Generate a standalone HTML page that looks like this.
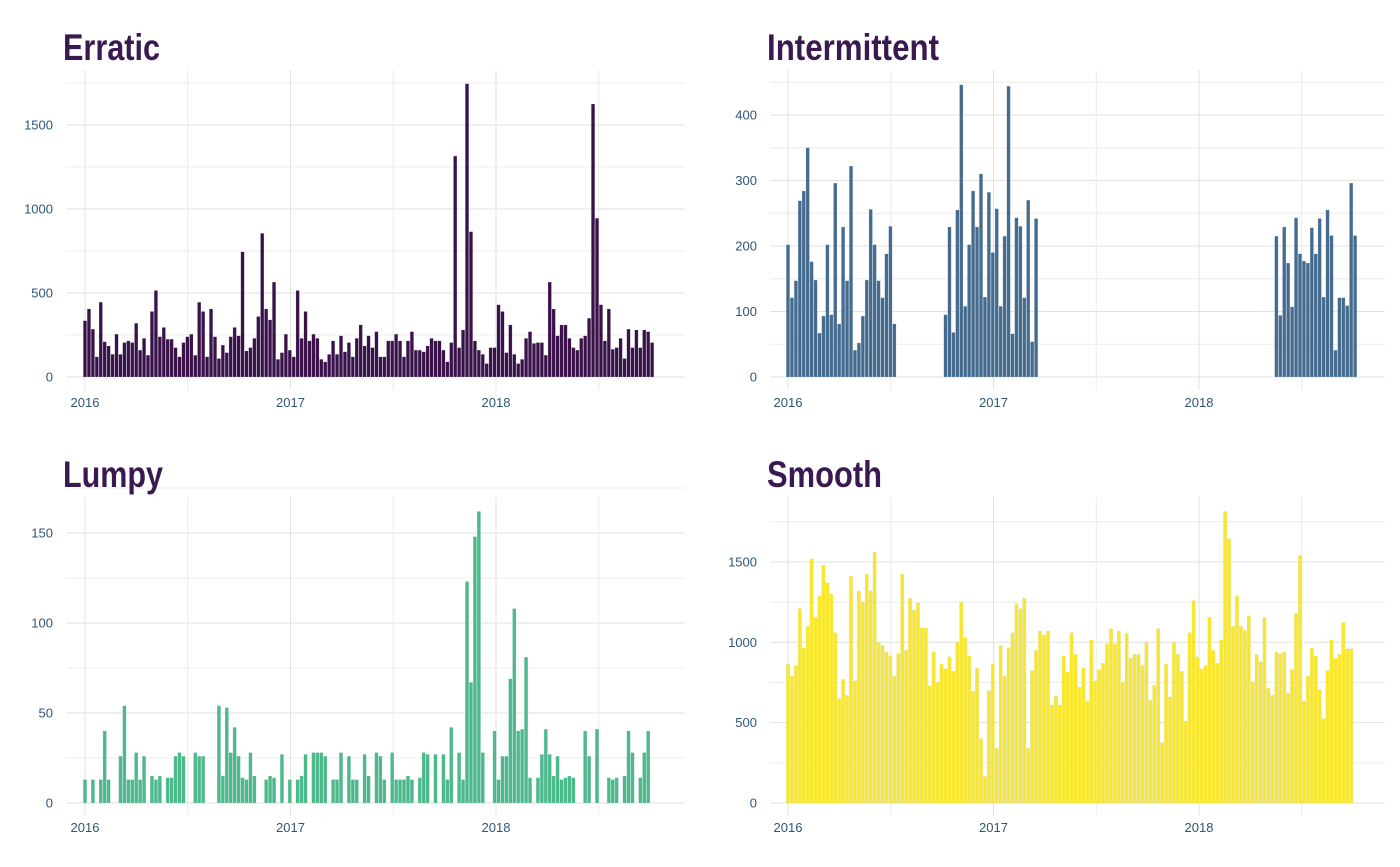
<!DOCTYPE html>
<html><head><meta charset="utf-8"><style>
body{margin:0;background:#fff;}
svg text{font-family:"Liberation Sans",sans-serif;}
.t{font-family:"Liberation Sans Narrow","Liberation Sans",sans-serif;font-weight:bold;font-size:37px;fill:#3a1850;}
.tk{font-size:13px;fill:#2f5577;}
</style></head><body>
<svg id="chart" width="1400" height="862" viewBox="0 0 1400 862" xmlns="http://www.w3.org/2000/svg"></svg>
<script>
const erraticValues=[335,405,285,120,445,210,185,135,255,135,205,215,205,320,160,230,130,390,515,240,295,225,225,175,120,205,240,255,130,445,390,120,405,240,110,190,145,240,295,245,745,155,175,230,360,855,405,340,565,105,145,255,160,120,515,230,390,215,255,230,105,90,135,215,135,245,150,205,120,230,310,185,245,175,270,120,120,215,215,255,215,120,215,270,160,160,150,185,230,215,215,160,90,205,1315,175,280,1745,865,215,160,135,80,175,175,430,390,145,310,135,80,105,230,270,200,205,205,130,565,405,245,310,310,230,175,160,230,245,350,1625,945,430,215,405,165,175,230,110,285,175,280,175,280,270,205];
const intermittentValues=[202,121,147,269,284,350,176,148,67,93,202,95,296,81,229,147,322,41,52,93,148,256,202,147,121,188,230,81,0,0,0,0,0,0,0,0,0,0,0,0,95,229,68,255,446,108,202,284,229,310,122,282,190,257,108,215,444,66,243,230,121,270,54,242,0,0,0,0,0,0,0,0,0,0,0,0,0,0,0,0,0,0,0,0,0,0,0,0,0,0,0,0,0,0,0,0,0,0,0,0,0,0,0,0,0,0,0,0,0,0,0,0,0,0,0,0,0,0,0,0,0,0,0,0,215,94,229,174,107,243,188,177,174,228,188,242,122,255,216,41,121,121,109,296,216];
const lumpyValues=[13,0,13,0,13,40,13,0,0,26,54,13,13,28,13,26,0,15,13,15,0,14,14,26,28,26,0,0,28,26,26,0,0,0,54,15,53,28,42,26,14,13,28,15,0,0,13,15,14,0,27,0,13,0,13,15,27,0,28,28,28,26,0,13,13,28,0,26,13,13,0,27,15,0,28,26,13,0,28,13,13,13,15,13,0,14,28,27,0,27,0,27,13,42,0,28,13,123,67,148,162,28,0,0,40,13,26,26,69,108,40,41,81,14,0,14,27,41,27,15,26,13,14,15,14,0,0,40,26,0,41,0,0,14,13,14,0,15,40,28,0,14,28,40];
const smoothValues=[865,790,855,1210,965,1100,1520,1155,1290,1480,1370,1300,1060,650,770,670,1410,760,1320,1250,1425,1320,1560,1000,980,940,915,790,930,1425,950,1275,1200,1245,1090,1090,730,940,750,865,835,910,820,1000,1250,1030,915,695,840,400,165,700,865,340,980,790,965,1060,1240,1210,1275,340,825,950,1070,1045,1070,610,665,610,915,815,1060,925,720,840,635,1015,760,830,870,990,1085,990,1070,750,1055,900,925,925,855,1000,640,730,1085,375,865,660,1000,925,820,510,1060,1260,910,835,855,1155,950,870,1015,1815,1645,1100,1290,1100,1075,1165,755,925,880,1155,715,670,940,930,940,685,830,1180,1540,635,790,965,915,705,525,825,1015,900,925,1125,960,960];
const yearLabels=["2016","2017","2018"];
const erraticTicks=[0,500,1000,1500];
const intermittentTicks=[0,100,200,300,400];
const lumpyTicks=[0,50,100,150];
const smoothTicks=[0,500,1000,1500];

const svg=document.getElementById('chart');
const NS='http://www.w3.org/2000/svg';
function mk(tag,attrs,parent){const e=document.createElementNS(NS,tag);for(const k in attrs)e.setAttribute(k,attrs[k]);parent.appendChild(e);return e;}

const panels=[
 {name:'erratic',title:'Erratic',tw:97,values:erraticValues,ticks:erraticTicks,minor:250,ymax:1750,x0:66,x1:685,yTop:70,yBot:390,zeroY:377,k:0.168,x2016:85,color:'#3a1148',titleY:60},
 {name:'intermittent',title:'Intermittent',tw:172,values:intermittentValues,ticks:intermittentTicks,minor:50,ymax:450,x0:770,x1:1385,yTop:70,yBot:390,zeroY:377,k:0.655,x2016:788,color:'#456b8e',titleY:60},
 {name:'lumpy',title:'Lumpy',tw:100,values:lumpyValues,ticks:lumpyTicks,minor:25,ymax:175,x0:66,x1:685,yTop:497,yBot:815,zeroY:803,k:1.8,x2016:85,color:'#4cb98a',titleY:487},
 {name:'smooth',title:'Smooth',tw:115,values:smoothValues,ticks:smoothTicks,minor:250,ymax:1750,x0:770,x1:1385,yTop:497,yBot:815,zeroY:803,k:0.1607,x2016:788,color:'#f9e72f',titleY:487}
];
const YEAR_PX=205.5;
const WEEK=YEAR_PX*7/365.25;

panels.forEach(p=>{
  const g=mk('g',{},svg);
  
  
  const yS=v=>p.zeroY-v*p.k;
  const xS=i=>p.x2016+i*WEEK;
  const grid=mk('g',{},g);
  
  
  for(let v=0;v<=p.ymax;v+=p.minor){
    const major=p.ticks.indexOf(v)>=0;
    mk('line',{x1:p.x0,x2:p.x1,y1:yS(v),y2:yS(v),stroke:major?'#e2e2dc':'#ececE6','stroke-width':1},grid);
  }
  for(let y=0;y<3;y++){
    const xm=p.x2016+y*YEAR_PX, xh=xm+YEAR_PX/2;
    mk('line',{x1:xm,x2:xm,y1:p.yTop,y2:p.yBot,stroke:'#e2e2dc','stroke-width':1},grid);
    if(xh<p.x1) mk('line',{x1:xh,x2:xh,y1:p.yTop,y2:p.yBot,stroke:'#ececE6','stroke-width':1},grid);
  }
  const t=mk('text',{x:p.x0-3,y:p.titleY,class:'t',textLength:p.tw,lengthAdjust:'spacingAndGlyphs'},g);
  t.textContent=p.title;
  
  
  p.ticks.forEach(v=>{
    const tx=mk('text',{x:p.x0-13,y:yS(v)+4.5,class:'tk','text-anchor':'end'},g);
    tx.textContent=v;
    
    
  });
  yearLabels.forEach((lab,i)=>{
    const tx=mk('text',{x:p.x2016+i*YEAR_PX,y:p.yBot+17,class:'tk','text-anchor':'middle'},g);
    tx.textContent=lab;
    
    
  });
  const bars=mk('g',{},g);
  
  
  p.values.forEach((v,i)=>{
    if(v<=0) return;
    const r=mk('rect',{x:xS(i)-WEEK/2+0.25,y:yS(v),width:WEEK-0.5,height:p.zeroY-yS(v),fill:p.color,stroke:'rgba(200,215,225,0.6)','stroke-width':0.3},bars);
    
    
  });
});
</script>
</body></html>
